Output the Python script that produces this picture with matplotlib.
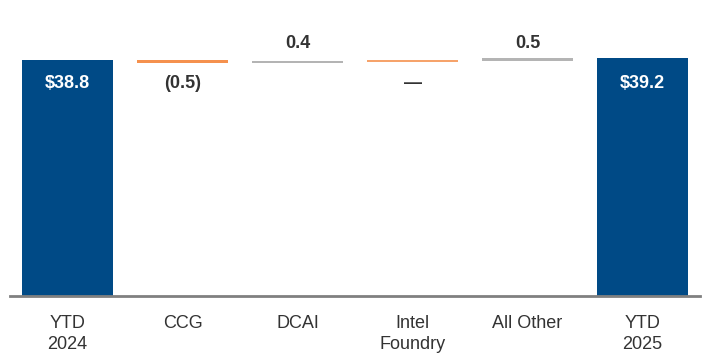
import matplotlib
matplotlib.use("Agg")
from matplotlib import pyplot as plt

plt.rcParams["font.family"] = ["Liberation Sans", "DejaVu Sans"]

categories = ["YTD\n2024", "CCG", "DCAI", "Intel\nFoundry", "All Other", "YTD\n2025"]
start_total = 38.8
changes = [-0.5, 0.4, 0.0, 0.5]
end_total = 39.2
change_labels = ["(0.5)", "0.4", "\u2014", "0.5"]
total_labels = ["$38.8", "$39.2"]

blue = "#004a86"
orange = "#f5914e"
gray = "#b4b4b4"
change_colors = [orange, gray, orange, gray]

fig = plt.figure(figsize=(7.1, 3.64), dpi=100)
ax = fig.add_axes([10/710, 68/364, 690/710, 296/364])

w = 0.79
# totals
ax.bar(0, start_total, width=w, color=blue)
ax.bar(5, end_total, width=w, color=blue)
ax.text(0, 34.9, total_labels[0], ha="center", va="center", color="white", fontsize=13, fontweight="bold")
ax.text(5, 34.9, total_labels[1], ha="center", va="center", color="white", fontsize=13, fontweight="bold")

# changes
running = start_total
for i, ch in enumerate(changes):
    x = i + 1
    lw = 1.2 if ch == 0 else 0
    ax.bar(x, ch, bottom=running, width=w, color=change_colors[i],
           edgecolor=change_colors[i], linewidth=lw)
    if ch > 0:
        ax.text(x, 41.6, change_labels[i], ha="center", va="center", color="#333333", fontsize=13, fontweight="bold")
    else:
        ax.text(x, 34.9, change_labels[i], ha="center", va="center", color="#333333", fontsize=13, fontweight="bold")
    running += ch

ax.set_xlim(-0.5, 5.5)
ax.set_ylim(0, 48.7)
for s in ["top", "right", "left"]:
    ax.spines[s].set_visible(False)
ax.spines["bottom"].set_color("#808080")
ax.spines["bottom"].set_linewidth(2)
ax.set_yticks([])
ax.set_xticks(range(len(categories)))
ax.set_xticklabels(categories, fontsize=13, color="#333333", linespacing=1.25)
ax.tick_params(axis="x", length=0, pad=14)

plt.savefig("out.png", dpi=100)
plt.close()
